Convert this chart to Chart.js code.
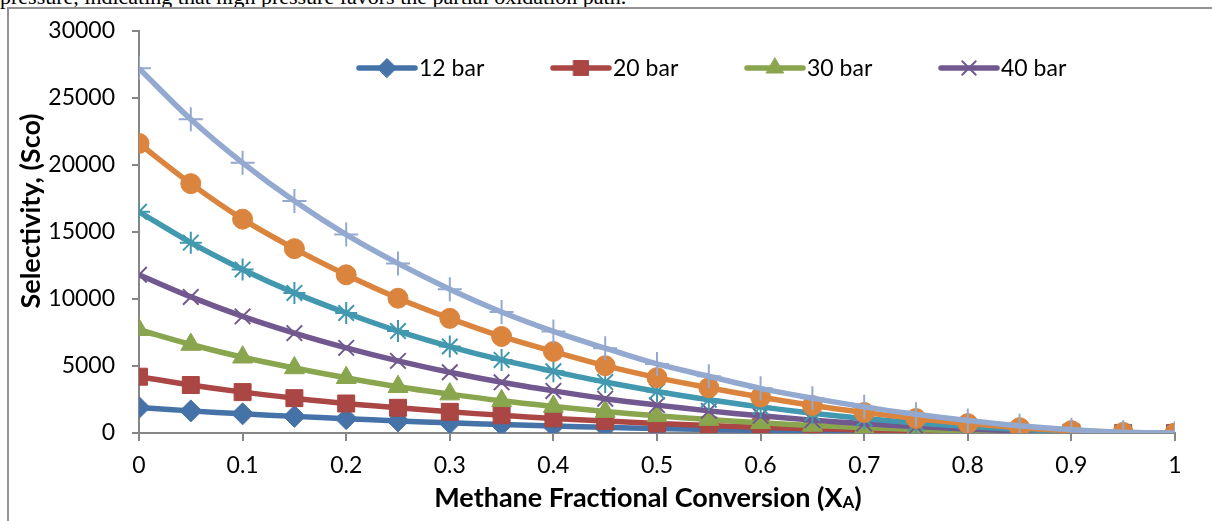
<!DOCTYPE html>
<html>
<head>
<meta charset="utf-8">
<script src="https://cdn.jsdelivr.net/npm/chart.js@4.4.0/dist/chart.umd.min.js"></script>
<style>
    html, body { margin: 0; padding: 0; background: #fff; overflow: hidden; }
    #page { position: relative; width: 1212px; height: 521px; overflow: hidden; }
    #caption { position: absolute; left: 0; top: -14px; font-family: "Liberation Serif", "Times New Roman", serif; font-size: 22px; line-height: 22px; white-space: nowrap; color: #000; }
    #frame { position: absolute; left: 7px; top: 7px; width: 1300px; height: 600px; border-left: 2px solid #939393; border-top: 2px solid #939393; }
    canvas { position: absolute; left: 0; top: 0; }
</style>
</head>
<body>
<div id="page">
    <div id="caption">pressure, indicating that high pressure favors the partial oxidation path.</div>
    <div id="frame"></div>
    <canvas id="chart" width="1212" height="521"></canvas>
</div>
<script>
// methane conversion points
const conversion = [0, 0.05, 0.1, 0.15, 0.2, 0.25, 0.3, 0.35, 0.4, 0.45, 0.5,
                    0.55, 0.6, 0.65, 0.7, 0.75, 0.8, 0.85, 0.9, 0.95, 1];

// selectivity per pressure
const sel12 = [1900, 1650, 1430, 1240, 1070, 900, 760, 630, 520, 420, 330, 260, 195, 140, 100, 65, 40, 20, 8, 2, 0];
const sel20 = [4200, 3580, 3050, 2600, 2200, 1880, 1580, 1320, 1090, 890, 710, 560, 430, 320, 230, 155, 95, 50, 20, 5, 0];
const sel30 = [7700, 6600, 5650, 4850, 4120, 3450, 2900, 2400, 1980, 1600, 1280, 1000, 760, 560, 400, 270, 165, 90, 40, 10, 0];
const sel40 = [11800, 10150, 8700, 7450, 6350, 5380, 4530, 3780, 3140, 2560, 2080, 1650, 1280, 960, 700, 480, 300, 165, 75, 20, 0];
const sel50 = [16500, 14200, 12200, 10450, 8950, 7600, 6450, 5450, 4600, 3800, 3100, 2480, 1950, 1480, 1080, 750, 480, 270, 120, 30, 0];
const sel60 = [21600, 18600, 15950, 13750, 11800, 10050, 8550, 7200, 6080, 5020, 4130, 3380, 2680, 2050, 1530, 1080, 700, 400, 180, 45, 0];
const sel70 = [27200, 23400, 20150, 17300, 14800, 12650, 10730, 9030, 7580, 6330, 5150, 4230, 3330, 2600, 1950, 1400, 930, 540, 250, 65, 0];

const seriesNames = ['12 bar', '20 bar', '30 bar', '40 bar', '50 bar', '60 bar', '70 bar'];
const seriesValues = [sel12, sel20, sel30, sel40, sel50, sel60, sel70];
const legendCount = 4; // only the first four show in the legend

const xTicks = [0, 0.1, 0.2, 0.3, 0.4, 0.5, 0.6, 0.7, 0.8, 0.9, 1];
const xTickLabels = ['0', '0.1', '0.2', '0.3', '0.4', '0.5', '0.6', '0.7', '0.8', '0.9', '1'];
const yTicks = [0, 5000, 10000, 15000, 20000, 25000, 30000];
const yTickLabels = ['0', '5000', '10000', '15000', '20000', '25000', '30000'];

// excel 2010 style
const colors = ['#4572A7', '#AA4643', '#89A54E', '#71588F', '#4198AF', '#DB843D', '#93A9CF'];
const markers = ['rectRot', 'rect', 'triangle', 'crossRot', 'star', 'circle', 'cross'];
const markerSizes = [11, 12, 11.5, 11, 11, 10, 12];

const axisColor = '#868686';
const fontFamily = 'Lato, "Open Sans", sans-serif';

const datasets = seriesNames.map((name, i) => ({
    label: name,
    data: conversion.map((x, j) => ({ x: x, y: seriesValues[i][j] })),
    borderColor: colors[i],
    backgroundColor: colors[i],
    borderWidth: 5.5,
    tension: 0.35,
    pointStyle: markers[i],
    pointRadius: markerSizes[i],
    pointBorderWidth: ['crossRot', 'star', 'cross'].includes(markers[i]) ? 2 : 1,
    pointBackgroundColor: colors[i],
    pointBorderColor: colors[i],
    order: -i // later series on top
}));

// legend drawn over the plot, like the excel one
const legendPlugin = {
    id: 'overlayLegend',
    afterDraw(chart) {
        const ctx = chart.ctx;
        ctx.save();
        ctx.font = '23px ' + fontFamily;
        ctx.textBaseline = 'middle';
        chart.data.datasets.slice(0, legendCount).forEach((ds, i) => {
            const x = 359 + i * 194;
            const y = 68;
            ctx.strokeStyle = ds.borderColor;
            ctx.fillStyle = ds.borderColor;
            ctx.lineWidth = 5.5;
            ctx.lineCap = 'round';
            ctx.beginPath();
            ctx.moveTo(x, y);
            ctx.lineTo(x + 56, y);
            ctx.stroke();
            ctx.lineWidth = ds.pointBorderWidth;
            Chart.helpers.drawPoint(ctx, {
                pointStyle: ds.pointStyle,
                radius: ds.pointRadius - 1.5,
                borderWidth: ds.pointBorderWidth,
                rotation: 0
            }, x + 28, y);
            ctx.fillStyle = '#000';
            ctx.fillText(ds.label, x + 60, y + 1);
        });
        ctx.restore();
    }
};

// axis titles, x one with subscript A
const titlesPlugin = {
    id: 'axisTitles',
    afterDraw(chart) {
        const ctx = chart.ctx;
        const bigFont = 'bold 27px ' + fontFamily;
        const smallFont = 'bold 17px ' + fontFamily;
        ctx.save();
        ctx.fillStyle = '#000';

        // y title
        ctx.save();
        ctx.translate(31, 211);
        ctx.rotate(-Math.PI / 2);
        ctx.font = bigFont;
        ctx.textAlign = 'center';
        ctx.textBaseline = 'middle';
        ctx.fillText('Selectivity, (Sco)', 0, 0);
        ctx.restore();

        // x title
        const main = 'Methane Fractional Conversion (X';
        const sub = 'A';
        const end = ')';
        ctx.textBaseline = 'alphabetic';
        ctx.font = bigFont;
        const w1 = ctx.measureText(main).width;
        const w3 = ctx.measureText(end).width;
        ctx.font = smallFont;
        const w2 = ctx.measureText(sub).width;
        let x = 648 - (w1 + w2 + w3) / 2;
        const y = 507;
        ctx.font = bigFont;
        ctx.fillText(main, x, y);
        x += w1;
        ctx.font = smallFont;
        ctx.fillText(sub, x, y + 1);
        x += w2;
        ctx.font = bigFont;
        ctx.fillText(end, x, y);
        ctx.restore();
    }
};

new Chart(document.getElementById('chart'), {
    type: 'line',
    data: { datasets: datasets },
    plugins: [legendPlugin, titlesPlugin],
    options: {
        responsive: false,
        animation: false,
        layout: { padding: { left: 10, top: 24, right: 37, bottom: 0 } },
        plugins: {
            legend: { display: false },
            tooltip: { enabled: false }
        },
        scales: {
            x: {
                type: 'linear',
                min: 0,
                max: 1,
                afterBuildTicks: s => { s.ticks = xTicks.map(v => ({ value: v })); },
                afterFit: s => { s.height = 88; },
                ticks: {
                    callback: (v, i) => xTickLabels[i],
                    color: '#000',
                    font: { family: fontFamily, size: 23 },
                    padding: 11,
                    maxRotation: 0
                },
                grid: { display: true, drawOnChartArea: false, drawTicks: true, tickLength: 8, color: axisColor, lineWidth: 2 },
                border: { color: axisColor, width: 2 }
            },
            y: {
                min: 0,
                max: 30000,
                afterBuildTicks: s => { s.ticks = yTicks.map(v => ({ value: v })); },
                afterFit: s => { s.width = 129; },
                ticks: {
                    callback: (v, i) => yTickLabels[i],
                    color: '#000',
                    font: { family: fontFamily, size: 23 },
                    padding: 17
                },
                grid: { display: true, drawOnChartArea: false, drawTicks: true, tickLength: 7, color: axisColor, lineWidth: 2 },
                border: { color: axisColor, width: 2 }
            }
        }
    }
});
</script>
</body>
</html>
